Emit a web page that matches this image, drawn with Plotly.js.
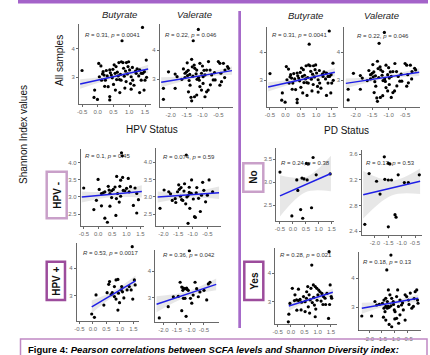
<!DOCTYPE html>
<html><head><meta charset="utf-8">
<script src="https://cdn.plot.ly/plotly-3.0.1.min.js"></script>
<style>html,body{margin:0;padding:0;background:#fff}#chart{width:430px;height:355px}</style>
</head><body><div id="chart"></div>
<script>
// ---------- DATA ----------
const allB_x=[-0.5,1.42,0.77,0.03,-0.1,-0.12,-0.01,0.17,0.2,0.27,0.33,0.38,0.4,0.43,0.48,0.52,0.55,0.6,0.67,0.75,0.8,0.82,0.91,0.96,1.01,1.06,1.11,0.74,0.69,0.38,0.7,0.86,1.06,1.22,1.33,1.38,1.43,1.48,1.54,1.38,1.33,0.62,0.65,0.1,0.12,0.24,0.5,0.84,0.94,1.04,0.58,0.38,0.22,1.15,1.25,1.5,1.55,1.47,0.88,0.46,0.3,0.98,1.2,0.72,0.15,0.05,1.1,0.56,0.9,1.3];
const allB_y=[3.24,4.76,4.29,3.49,2.55,2.29,2.22,3.2,3.08,3.24,2.67,3.26,3.16,3.08,3.28,3.44,3.14,2.92,3.52,3.55,3.52,3.32,3.52,3.38,3.26,3.02,2.9,2.9,2.92,2.32,2.46,2.62,2.58,3.14,3.26,3.14,3.14,3.2,3.61,2.9,2.46,3.18,3.05,3.4,2.9,2.9,2.75,3.04,3.12,2.78,3.38,2.2,2.68,2.72,3.3,2.9,3.0,2.55,3.22,2.98,3.05,3.55,3.22,3.1,3.12,3.02,3.35,2.55,2.85,3.05];
const allB_fitX=[-0.56,1.6], allB_fitY=[2.76,3.29];
const allB_bandX=[-0.56,0.52,1.6], allB_lo=[2.6,2.96,3.14], allB_hi=[2.93,3.09,3.44];

const allV_x=[-2.23,-2.23,-2.07,-1.86,-1.8,-1.86,-1.65,-1.55,-1.5,-1.45,-1.47,-1.4,-1.48,-1.34,-1.32,-1.26,-1.24,-1.18,-1.29,-1.13,-1.08,-1.03,-0.98,-0.92,-0.87,-0.81,-1.44,-1.39,-1.36,-1.34,-1.25,-1.18,-1.08,-1.03,-0.98,-0.92,-0.87,-0.76,-0.71,-0.66,-0.6,-0.5,-0.45,-0.42,-0.4,-0.34,-0.29,-0.21,-0.18,-0.45,-0.82,-1.17,-1.1,-1.55,-1.3,-1.2,-1.12,-0.95,-0.75,-1.6,-1.42,-0.62,-0.3,-1.0];
const allV_y=[2.3,2.68,3.25,3.17,3.08,2.68,2.99,3.2,3.25,3.3,3.12,3.16,3.56,3.68,3.42,3.48,3.37,3.31,4.32,4.71,3.54,3.2,3.08,3.14,3.31,3.6,2.56,2.79,2.37,2.25,2.39,2.45,2.74,2.62,2.85,2.39,2.56,3.31,3.14,2.97,2.97,3.6,3.54,3.2,2.91,3.54,3.31,3.43,3.37,2.79,2.62,2.99,2.96,3.05,3.1,3.18,3.05,3.3,2.8,3.35,2.95,3.22,3.05,3.45];
const allV_fitX=[-2.3,-0.07], allV_fitY=[2.89,3.29];
const allV_bandX=[-2.3,-1.185,-0.07], allV_lo=[2.72,3.03,3.15], allV_hi=[3.06,3.15,3.43];

const hpvnB_x=[-0.51,-0.06,-0.15,0.0,0.04,0.12,0.18,0.24,0.12,0.24,0.33,0.36,0.39,0.42,0.48,0.42,0.48,0.54,0.6,0.66,0.63,0.69,0.77,0.8,0.83,0.86,0.89,0.95,1.01,0.87,0.75,0.8,1.07,1.1,1.25,1.31,1.37,1.43,1.37,1.15,0.65];
const hpvnB_y=[3.26,2.9,2.63,3.51,3.22,3.1,3.12,3.15,2.74,2.38,2.26,3.31,3.2,3.1,3.18,2.73,2.98,3.22,3.29,3.6,2.46,3.1,3.31,3.49,4.29,4.2,3.19,3.18,3.25,3.57,2.85,3.02,3.54,3.15,2.75,3.26,3.1,2.92,2.53,3.3,2.95];
const hpvnB_fitX=[-0.58,1.55], hpvnB_fitY=[3.0,3.16];
const hpvnB_bandX=[-0.58,0.485,1.55], hpvnB_lo=[2.84,3.0,2.98], hpvnB_hi=[3.16,3.16,3.34];

const hpvnV_x=[-2.12,-1.98,-1.82,-1.76,-1.58,-1.52,-1.46,-1.42,-1.4,-1.38,-1.34,-1.24,-1.3,-1.22,-1.16,-1.12,-1.12,-1.1,-1.04,-0.98,-0.94,-0.91,-1.16,-0.86,-0.8,-0.74,-0.7,-0.62,-0.56,-0.44,-0.32,-1.6,-1.48,-1.05,-0.88,-0.66,-1.28,-1.7,-0.5,-1.2];
const hpvnV_y=[2.67,3.2,3.15,3.09,2.84,3.15,3.22,3.02,3.27,2.92,2.9,2.8,3.17,4.21,3.04,3.13,3.28,2.67,3.49,2.94,2.43,2.41,2.24,3.27,2.96,2.58,3.05,3.19,2.86,3.49,3.15,2.95,3.35,3.1,3.12,3.42,3.38,2.9,3.05,3.0];
const hpvnV_fitX=[-2.2,-0.1], hpvnV_fitY=[3.0,3.12];
const hpvnV_bandX=[-2.2,-1.15,-0.1], hpvnV_lo=[2.84,2.98,2.94], hpvnV_hi=[3.16,3.14,3.3];

const hpvpB_x=[-0.04,0.06,0.12,0.41,0.53,0.59,0.62,0.72,0.8,0.86,0.93,0.8,0.86,0.93,0.95,0.99,1.05,1.07,1.15,1.27,1.35,1.42,1.48,1.54,1.57,1.46,0.68,1.1];
const hpvpB_y=[2.35,2.23,3.04,2.67,3.12,3.42,3.52,3.12,3.34,3.58,3.6,2.98,2.89,2.49,3.1,2.76,3.22,3.34,2.93,3.22,3.34,3.22,2.89,3.58,3.4,4.78,3.05,3.15];
const hpvpB_fitX=[-0.04,1.58], hpvpB_fitY=[2.61,3.55];
const hpvpB_bandX=[-0.04,0.77,1.58], hpvpB_lo=[2.38,2.98,3.36], hpvpB_hi=[2.84,3.18,3.74];

const hpvpV_x=[-2.15,-1.82,-1.63,-1.38,-1.32,-1.28,-1.26,-1.2,-1.14,-1.12,-1.08,-1.26,-1.2,-1.32,-1.16,-1.04,-1.0,-0.95,-0.83,-0.77,-0.71,-0.65,-0.5,-0.4,-0.34,-0.28,-0.9,-1.45];
const hpvpV_y=[2.25,2.67,3.04,3.58,3.4,3.28,3.36,3.34,3.36,3.31,3.28,2.98,2.98,2.52,2.31,4.76,2.98,2.8,3.58,3.34,3.04,3.22,3.28,2.92,3.52,3.58,3.1,3.05];
const hpvpV_fitX=[-2.25,-0.05], hpvpV_fitY=[2.76,3.5];
const hpvpV_bandX=[-2.25,-1.15,-0.05], hpvpV_lo=[2.46,3.03,3.28], hpvpV_hi=[3.06,3.23,3.72];

const noB_x=[-0.5,0.15,0.19,0.35,0.43,0.55,0.52,0.6,0.78,0.9,1.44,-0.04,0.3,0.38,0.72];
const noB_y=[3.22,3.05,2.82,3.09,3.07,3.05,3.41,3.4,3.54,3.16,3.18,2.26,2.4,2.21,2.44];
const noB_fitX=[-0.5,1.47], noB_fitY=[2.7,3.19];
const noB_bandX=[-0.5,0.485,1.47], noB_lo=[2.25,2.78,2.8], noB_hi=[3.15,3.11,3.58];

const noV_x=[-2.38,-2.22,-1.94,-1.81,-1.65,-1.5,-1.44,-1.63,-1.5,-1.38,-1.5,-1.25,-1.21,-1.13,-0.9,-0.75,-0.34];
const noV_y=[2.51,3.3,3.18,2.98,3.56,3.46,3.45,3.21,3.2,3.2,2.47,2.66,2.62,3.28,3.16,3.16,3.28];
const noV_fitX=[-2.44,-0.31], noV_fitY=[2.97,3.18];
const noV_bandX=[-2.44,-1.375,-0.31], noV_lo=[2.6,2.96,2.98], noV_hi=[3.34,3.19,3.38];

const yesB_x=[-0.1,-0.08,-0.04,0.05,0.13,0.21,0.28,0.34,0.15,0.28,0.38,0.53,0.59,0.63,0.68,0.72,0.75,0.78,0.8,0.84,0.91,0.97,1.04,0.88,0.93,0.91,1.01,1.09,1.13,1.16,1.22,1.28,1.35,1.41,1.47,1.51,1.53,1.43,0.53,0.47,0.4,0.65,1.2,1.45,0.85,0.22,0.98,0.58,1.3,0.7];
const yesB_y=[2.29,2.56,2.94,3.47,3.04,3.06,3.04,3.08,3.24,3.44,2.71,2.65,3.35,3.53,3.24,3.06,3.47,4.29,2.97,3.59,3.53,3.47,3.41,2.88,2.74,2.47,3.24,3.35,3.02,3.29,3.18,3.12,3.29,2.41,3.59,3.18,3.12,4.76,3.0,3.18,2.98,2.82,2.9,2.9,3.15,2.7,3.05,3.12,2.9,2.6];
const yesB_fitX=[-0.08,1.57], yesB_fitY=[2.85,3.33];
const yesB_bandX=[-0.08,0.745,1.57], yesB_lo=[2.68,3.02,3.2], yesB_hi=[3.02,3.16,3.46];

const yesV_x=[-2.28,-1.9,-1.77,-1.7,-1.48,-1.42,-1.35,-1.29,-1.26,-1.42,-1.35,-1.29,-1.22,-1.44,-1.35,-1.31,-1.22,-1.15,-1.12,-1.25,-1.19,-1.12,-1.06,-1.02,-0.99,-0.93,-0.89,-0.86,-0.8,-0.8,-0.93,-0.74,-0.67,-0.6,-0.54,-0.47,-0.4,-0.34,-0.28,-0.21,-0.15,-0.12,-0.1,-1.0,-0.6,-1.6,-1.05,-0.7,-0.45,-1.15,-0.25,-1.38,-0.85];
const yesV_y=[2.7,2.7,3.2,3.08,3.14,3.25,3.31,3.2,3.03,2.97,3.03,2.97,3.0,2.66,2.56,4.29,2.41,4.8,2.33,3.6,3.43,3.31,3.2,2.91,2.85,3.37,3.6,3.03,3.25,2.74,2.62,3.08,2.91,3.43,3.37,3.25,3.49,2.97,3.03,3.54,3.6,3.25,3.14,2.6,2.56,3.1,3.1,3.15,3.1,3.05,3.3,2.85,2.45];
const yesV_fitX=[-2.28,-0.09], yesV_fitY=[2.97,3.31];
const yesV_bandX=[-2.28,-1.185,-0.09], yesV_lo=[2.78,3.07,3.18], yesV_hi=[3.16,3.21,3.44];

// tick labels
const tickB=[-0.5,0,0.5,1,1.5], tickBText=['-0.5','0.0','0.5','1.0','1.5'];
const tickV=[-2,-1.5,-1,-0.5], tickVText=['-2.0','-1.5','-1.0','-0.5'];
const yT34=[3,4], yT34Text=['3','4'];
const yTHn=[2.5,3,3.5,4], yTHnText=['2.5','3.0','3.5','4.0'];
const yTNoB=[2.5,3,3.5], yTNoBText=['2.5','3.0','3.5'];
const yTNoV=[2.4,2.8,3.2,3.6], yTNoVText=['2.4','2.8','3.2','3.6'];

// stats
const statR=['0.31','0.22','0.31','0.22','0.1','0.074','0.53','0.36','0.24','0.17','0.28','0.18'];
const statP=['0.0041','0.046','0.0041','0.046','0.45','0.59','0.0017','0.042','0.38','0.53','0.021','0.13'];

// ---------- LAYOUT HELPERS ----------
const W=430,H=355;
const px=v=>v/W, py=v=>1-v/H;
const FONT='Liberation Sans, Arial, sans-serif';

function D(x,y,fx,fy,bx,lo,hi){return {x,y,fx,fy,bx,lo,hi};}
const sets={
 allB:D(allB_x,allB_y,allB_fitX,allB_fitY,allB_bandX,allB_lo,allB_hi),
 allV:D(allV_x,allV_y,allV_fitX,allV_fitY,allV_bandX,allV_lo,allV_hi),
 hnB:D(hpvnB_x,hpvnB_y,hpvnB_fitX,hpvnB_fitY,hpvnB_bandX,hpvnB_lo,hpvnB_hi),
 hnV:D(hpvnV_x,hpvnV_y,hpvnV_fitX,hpvnV_fitY,hpvnV_bandX,hpvnV_lo,hpvnV_hi),
 hpB:D(hpvpB_x,hpvpB_y,hpvpB_fitX,hpvpB_fitY,hpvpB_bandX,hpvpB_lo,hpvpB_hi),
 hpV:D(hpvpV_x,hpvpV_y,hpvpV_fitX,hpvpV_fitY,hpvpV_bandX,hpvpV_lo,hpvpV_hi),
 noB:D(noB_x,noB_y,noB_fitX,noB_fitY,noB_bandX,noB_lo,noB_hi),
 noV:D(noV_x,noV_y,noV_fitX,noV_fitY,noV_bandX,noV_lo,noV_hi),
 yesB:D(yesB_x,yesB_y,yesB_fitX,yesB_fitY,yesB_bandX,yesB_lo,yesB_hi),
 yesV:D(yesV_x,yesV_y,yesV_fitX,yesV_fitY,yesV_bandX,yesV_lo,yesV_hi)
};
const panels=[
 {d:'allB',xr:[-0.6,1.7],yr:[2.05,4.9],box:[78.9,151.3,23.5,104.2],xt:tickB,xtt:tickBText,yt:yT34,ytt:yT34Text,ap:[83,35]},
 {d:'allV',xr:[-2.35,-0.05],yr:[2.05,4.9],box:[159.6,232.6,23.9,106.6],xt:tickV,xtt:tickVText,yt:yT34,ytt:yT34Text,ap:[163,35]},
 {d:'allB',xr:[-0.6,1.7],yr:[2.05,4.9],box:[266.9,337.9,27.1,106.9],xt:tickB,xtt:tickBText,yt:yT34,ytt:yT34Text,ap:[270,35]},
 {d:'allV',xr:[-2.35,-0.05],yr:[2.05,4.9],box:[344.2,419.9,27.1,106.9],xt:tickV,xtt:tickVText,yt:yT34,ytt:yT34Text,ap:[355,36]},
 {d:'hnB',xr:[-0.62,1.62],yr:[2.15,4.4],box:[80.6,143.8,149,226],xt:tickB,xtt:tickBText,yt:yTHn,ytt:yTHnText,ap:[83,156]},
 {d:'hnV',xr:[-2.25,-0.05],yr:[2.15,4.4],box:[156.2,220.5,148.4,226.4],xt:tickV,xtt:tickVText,yt:yTHn,ytt:yTHnText,ap:[160.5,157.3]},
 {d:'hpB',xr:[-0.6,1.7],yr:[2.1,4.9],box:[76.6,138.7,243.4,320.9],xt:tickB,xtt:tickBText,yt:yT34,ytt:yT34Text,ap:[81,253.3]},
 {d:'hpV',xr:[-2.3,0.05],yr:[2.1,4.8],box:[155.2,218.9,249.6,321.9],xt:tickV,xtt:tickVText,yt:yT34,ytt:yT34Text,ap:[160.5,255]},
 {d:'noB',xr:[-0.65,1.6],yr:[2.15,3.75],box:[276.1,334.3,147.9,221],xt:tickB,xtt:tickBText,yt:yTNoB,ytt:yTNoBText,ap:[279,163.3]},
 {d:'noV',xr:[-2.5,-0.25],yr:[2.34,3.67],box:[361.6,421.7,149.8,235.2],xt:tickV,xtt:tickVText,yt:yTNoV,ytt:yTNoVText,ap:[364,163.3]},
 {d:'yesB',xr:[-0.6,1.72],yr:[2.2,4.9],box:[275,336.8,247.7,324.4],xt:tickB,xtt:tickBText,yt:yT34,ytt:yT34Text,ap:[277.5,255]},
 {d:'yesV',xr:[-2.4,0.0],yr:[2.2,4.9],box:[358.7,420.6,252.2,330.5],xt:tickV,xtt:tickVText,yt:yT34,ytt:yT34Text,ap:[361,261.7]}
];

const traces=[], annotations=[], shapes=[];
const layout={width:W,height:H,margin:{l:0,r:0,t:0,b:0},paper_bgcolor:'#fff',plot_bgcolor:'#fff',showlegend:false,font:{family:FONT}};

panels.forEach((p,i)=>{
  const s=i===0?'':String(i+1);
  const xa='x'+s, ya='y'+s;
  const d=sets[p.d];
  traces.push({type:'scatter',mode:'lines',x:d.bx,y:d.lo,xaxis:xa,yaxis:ya,line:{width:0,shape:'spline'},hoverinfo:'skip'});
  traces.push({type:'scatter',mode:'lines',x:d.bx,y:d.hi,xaxis:xa,yaxis:ya,line:{width:0,shape:'spline'},fill:'tonexty',fillcolor:'rgba(185,185,185,0.35)',hoverinfo:'skip'});
  traces.push({type:'scatter',mode:'markers',x:d.x,y:d.y,xaxis:xa,yaxis:ya,marker:{size:3.2,color:'#000'}});
  traces.push({type:'scatter',mode:'lines',x:d.fx,y:d.fy,xaxis:xa,yaxis:ya,line:{width:1.5,color:'#1f1fe6'}});
  const axCommon={showline:true,linecolor:'#444',linewidth:0.8,ticks:'outside',ticklen:2,tickwidth:0.8,tickcolor:'#444',showgrid:false,zeroline:false,fixedrange:true,tickangle:0,tickfont:{size:6,color:'#6a6a6a',family:FONT},tickmode:'array'};
  layout['xaxis'+s]=Object.assign({},axCommon,{domain:[px(p.box[0]),px(p.box[1])],range:p.xr,anchor:ya,tickvals:p.xt,ticktext:p.xtt});
  layout['yaxis'+s]=Object.assign({},axCommon,{domain:[py(p.box[3]),py(p.box[2])],range:p.yr,anchor:xa,tickvals:p.yt,ticktext:p.ytt});
  annotations.push({xref:'paper',yref:'paper',x:px(p.ap[0]),y:py(p.ap[1]),xanchor:'left',yanchor:'middle',showarrow:false,
    text:'<i>R</i> = '+statR[i]+', <i>p</i> = '+statP[i],font:{size:6,color:'#333',family:FONT}});
});

function txt(t,x,y,opt){annotations.push(Object.assign({xref:'paper',yref:'paper',x:px(x),y:py(y),xanchor:'center',yanchor:'middle',showarrow:false,text:t,font:{size:10,color:'#111',family:FONT}},opt||{}));}
const it={font:{size:9.5,color:'#222',family:FONT}};
txt('<i>Butyrate</i>',119,14.5,it); txt('<i>Valerate</i>',194,14.5,it);
txt('<i>Butyrate</i>',305,15.5,it); txt('<i>Valerate</i>',381,15.5,it);
txt('All samples',59,61,{textangle:-90});
txt('Shannon Index values',24,135,{textangle:-90});
txt('HPV Status',152,130); txt('PD Status',346,131);

function box(x0,x1,y0,y1,col){shapes.push({type:'rect',xref:'paper',yref:'paper',x0:px(x0),x1:px(x1),y0:py(y1),y1:py(y0),line:{color:col,width:2.5},fillcolor:'#fff'});}
box(46.7,66.7,171.7,218.3,'#c9a0c9'); box(46.7,65,261.7,300,'#9c4c9c');
box(243.3,263.3,163.3,191.7,'#c9a0c9'); box(244.3,263.3,261.7,300,'#9c4c9c');
const bold={font:{size:10,color:'#111',family:FONT},textangle:-90};
txt('<b>HPV -</b>',56.7,195,bold); txt('<b>HPV +</b>',55.8,281,bold);
txt('<b>No</b>',253.3,177.5,bold); txt('<b>Yes</b>',253.8,281,bold);

// decorations
shapes.push({type:'rect',xref:'paper',yref:'paper',x0:px(18),x1:px(428),y0:py(3.5),y1:1,line:{width:0},fillcolor:'#a463c9'});
shapes.push({type:'rect',xref:'paper',yref:'paper',x0:px(238.3),x1:px(241),y0:py(328),y1:py(11),line:{width:0},fillcolor:'#a66ac9'});
shapes.push({type:'rect',xref:'paper',yref:'paper',x0:px(20.5),x1:px(427),y0:py(362),y1:py(339),line:{color:'#c088c4',width:1.5},fillcolor:'rgba(0,0,0,0)'});
annotations.push({xref:'paper',yref:'paper',x:px(26),y:py(349),xanchor:'left',yanchor:'middle',showarrow:false,
  text:'<b>Figure 4: <i>Pearson correlations between SCFA levels and Shannon Diversity index:</i></b>',font:{size:9.5,color:'#000',family:FONT}});

layout.annotations=annotations; layout.shapes=shapes;
Plotly.newPlot('chart',traces,layout,{staticPlot:true,displayModeBar:false});
</script></body></html>
